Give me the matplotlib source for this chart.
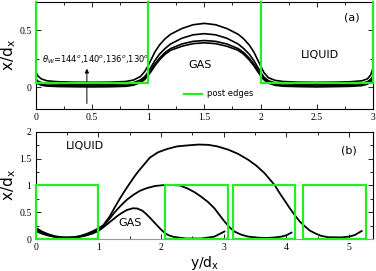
import matplotlib
matplotlib.use("Agg")
import matplotlib.pyplot as plt
from matplotlib.ticker import MultipleLocator
from matplotlib.patches import Rectangle

# ---------------- data: panel (a) ----------------
top_x = [0, 0.02, 0.05, 0.1, 0.2, 0.35, 0.5, 0.65, 0.8, 0.87, 0.93, 0.97, 1.0,
         1.03, 1.06, 1.1, 1.15, 1.2, 1.3, 1.4, 1.5, 1.6, 1.7, 1.8, 1.85, 1.9, 1.94, 1.97,
         2.0, 2.03, 2.07, 2.13, 2.2, 2.35, 2.5, 2.65, 2.8, 2.9, 2.95, 2.98, 3.0]
curve_144 = [0.135, 0.10, 0.075, 0.058, 0.05, 0.046, 0.045, 0.046, 0.052, 0.065, 0.095, 0.14, 0.19,
             0.25, 0.31, 0.37, 0.425, 0.465, 0.515, 0.548, 0.56, 0.548, 0.515, 0.465, 0.425, 0.37, 0.31, 0.25,
             0.19, 0.13, 0.085, 0.062, 0.052, 0.046, 0.045, 0.046, 0.05, 0.058, 0.075, 0.11, 0.17]
curve_140 = [0.075, 0.055, 0.042, 0.034, 0.03, 0.028, 0.027, 0.028, 0.032, 0.042, 0.065, 0.095, 0.135,
             0.185, 0.235, 0.29, 0.34, 0.38, 0.43, 0.46, 0.47, 0.46, 0.43, 0.38, 0.34, 0.29, 0.235, 0.185,
             0.135, 0.09, 0.058, 0.04, 0.033, 0.028, 0.027, 0.028, 0.03, 0.036, 0.05, 0.07, 0.10]
curve_136 = [0.06, 0.04, 0.028, 0.02, 0.016, 0.014, 0.013, 0.014, 0.018, 0.028, 0.05, 0.08, 0.115,
             0.16, 0.205, 0.255, 0.305, 0.34, 0.38, 0.403, 0.41, 0.403, 0.38, 0.34, 0.305, 0.255, 0.205, 0.16,
             0.115, 0.075, 0.045, 0.027, 0.019, 0.015, 0.013, 0.015, 0.018, 0.024, 0.037, 0.055, 0.08]
curve_130 = [0.05, 0.032, 0.02, 0.012, 0.008, 0.006, 0.005, 0.006, 0.01, 0.02, 0.042, 0.07, 0.105,
             0.145, 0.19, 0.24, 0.29, 0.325, 0.36, 0.383, 0.39, 0.383, 0.36, 0.325, 0.29, 0.24, 0.19, 0.145,
             0.105, 0.067, 0.037, 0.019, 0.011, 0.007, 0.005, 0.007, 0.01, 0.016, 0.029, 0.047, 0.07]
top_posts_left = [0, 2]
top_post_width = 1
top_post_height = 0.035

# ---------------- data: panel (b) ----------------
large_x = [0, 0.1, 0.2, 0.3, 0.4, 0.5, 0.6, 0.7, 0.8, 0.9, 1.0, 1.08, 1.185, 1.26, 1.345, 1.42,
           1.5, 1.57, 1.64, 1.72, 1.82, 1.95, 2.09, 2.25, 2.43, 2.6, 2.75, 2.9, 3.07, 3.23,
           3.39, 3.52, 3.65, 3.73, 3.81, 3.89, 3.97, 4.05, 4.13, 4.21, 4.29, 4.37, 4.45,
           4.55, 4.66, 4.87, 5.0, 5.09, 5.2]
large_y = [0.21, 0.14, 0.09, 0.055, 0.035, 0.03, 0.035, 0.055, 0.09, 0.14, 0.2, 0.26, 0.43, 0.59,
           0.76, 0.90, 1.04, 1.16, 1.27, 1.38, 1.52, 1.62, 1.68, 1.73, 1.75, 1.765, 1.76, 1.73,
           1.67, 1.59, 1.48, 1.37, 1.23, 1.12, 1.01, 0.86, 0.72, 0.58, 0.45, 0.33, 0.24, 0.16,
           0.11, 0.06, 0.035, 0.03, 0.045, 0.075, 0.15]
medium_x = [0, 0.1, 0.2, 0.3, 0.4, 0.5, 0.6, 0.7, 0.8, 0.9, 1.0, 1.08, 1.185, 1.26, 1.345, 1.45,
            1.557, 1.66, 1.77, 1.9, 2.06, 2.18, 2.3, 2.43, 2.54, 2.64, 2.75, 2.85, 2.93, 3.01,
            3.09, 3.17, 3.28, 3.39, 3.55, 3.7, 3.82, 3.92, 4.0, 4.08]
medium_y = [0.18, 0.12, 0.075, 0.045, 0.03, 0.025, 0.03, 0.045, 0.075, 0.12, 0.18, 0.24, 0.39,
            0.50, 0.61, 0.73, 0.825, 0.90, 0.95, 0.99, 1.01, 1.01, 1.0, 0.94, 0.87, 0.79, 0.69,
            0.575, 0.45, 0.33, 0.22, 0.14, 0.08, 0.045, 0.025, 0.02, 0.03, 0.045, 0.07, 0.12]
small_x = [0, 0.1, 0.2, 0.3, 0.4, 0.5, 0.6, 0.7, 0.8, 0.9, 1.0, 1.08, 1.185, 1.29, 1.35, 1.45,
           1.55, 1.62, 1.7, 1.76, 1.82, 1.9, 1.98, 2.05, 2.12, 2.2, 2.4, 2.64, 2.85, 3.01]
small_y = [0.15, 0.1, 0.065, 0.04, 0.025, 0.02, 0.025, 0.04, 0.065, 0.1, 0.15, 0.22, 0.32, 0.42,
           0.47, 0.54, 0.575, 0.57, 0.53, 0.47, 0.40, 0.30, 0.2, 0.12, 0.07, 0.04, 0.01, 0.01,
           0.045, 0.14]
bottom_posts_left = [0, 2.06, 3.14, 4.27]
bottom_post_width = 1
bottom_post_height = 1

GREEN = "#22ee22"
serif = "Liberation Serif"
sans = "DejaVu Sans"

fig = plt.figure(figsize=(3.76, 2.71), dpi=100)
ax1 = fig.add_axes([0.095, 0.597, 0.897, 0.397])
ax2 = fig.add_axes([0.095, 0.118, 0.897, 0.395])


def style(ax):
    ax.tick_params(which="both", direction="in", top=True, right=True, width=0.6)
    ax.tick_params(which="major", length=3.5, labelsize=7, pad=3)
    ax.tick_params(which="minor", length=2)
    for lab in ax.get_xticklabels() + ax.get_yticklabels():
        lab.set_fontfamily(serif)
    for s in ax.spines.values():
        s.set_linewidth(0.8)


# ---------------- panel (a) ----------------
for yv in (curve_144, curve_140, curve_136, curve_130):
    ax1.plot(top_x, yv, color="black", lw=1.2, zorder=3)
ytop = 0.75
for left in top_posts_left:
    ax1.plot([left, left, left + top_post_width, left + top_post_width],
             [ytop, top_post_height, top_post_height, ytop],
             color=GREEN, lw=1.6, zorder=4, clip_on=False)
ax1.plot([], [], color=GREEN, lw=1.6, label="post edges")
ax1.set_xlim(0, 3)
ax1.set_ylim(-0.19, ytop)
ax1.xaxis.set_major_locator(MultipleLocator(0.5))
ax1.xaxis.set_minor_locator(MultipleLocator(0.25))
ax1.yaxis.set_major_locator(MultipleLocator(0.5))
ax1.yaxis.set_minor_locator(MultipleLocator(0.25))
ax1.set_xticks([0, 0.5, 1, 1.5, 2, 2.5, 3])
ax1.set_xticklabels(["0", "0.5", "1", "1.5", "2", "2.5", "3"])
ax1.set_yticks([0, 0.5])
ax1.set_yticklabels(["0", "0.5"])
style(ax1)
ax1.set_ylabel(r"x/d$_\mathregular{x}$", fontsize=11, family=sans, labelpad=1)
ax1.text(2.81, 0.615, "(a)", fontsize=8, family=sans, ha="center", va="center")
ax1.text(2.53, 0.28, "LIQUID", fontsize=8, family=sans, ha="center", va="center")
ax1.text(1.46, 0.195, "GAS", fontsize=8, family=sans, ha="center", va="center")
ax1.text(0.535, 0.24, r"$\theta_W$=144$^o$,140$^o$,136$^o$,130$^o$", fontsize=6,
         family=sans, ha="center", va="center")
ax1.annotate("", xy=(0.455, 0.165), xytext=(0.455, -0.14),
             arrowprops=dict(arrowstyle="-|>", color="black", lw=0.7,
                             mutation_scale=6, shrinkA=0, shrinkB=0))
leg = ax1.legend(loc="center left", bbox_to_anchor=(0.43, 0.142), frameon=False,
                 fontsize=6, handlelength=2.2, handletextpad=0.6, borderaxespad=0)

# ---------------- panel (b) ----------------
for xv, yv in ((large_x, large_y), (medium_x, medium_y), (small_x, small_y)):
    ax2.plot(xv, yv, color="black", lw=1.3, zorder=3)
for left in bottom_posts_left:
    ax2.add_patch(Rectangle((left, 0), bottom_post_width, bottom_post_height,
                            fill=False, edgecolor=GREEN, lw=1.6, zorder=4, clip_on=False))
ax2.set_xlim(0, 5.38)
ax2.set_ylim(0, 2)
ax2.xaxis.set_major_locator(MultipleLocator(1))
ax2.xaxis.set_minor_locator(MultipleLocator(0.5))
ax2.yaxis.set_major_locator(MultipleLocator(0.5))
ax2.yaxis.set_minor_locator(MultipleLocator(0.25))
ax2.set_xticks([0, 1, 2, 3, 4, 5])
ax2.set_xticklabels(["0", "1", "2", "3", "4", "5"])
ax2.set_yticks([0, 0.5, 1, 1.5, 2])
ax2.set_yticklabels(["0", "0.5", "1", "1.5", "2"])
style(ax2)
ax2.spines["bottom"].set_color("#999999")
ax2.set_ylabel(r"x/d$_\mathregular{x}$", fontsize=11, family=sans, labelpad=1)
ax2.set_xlabel(r"y/d$_\mathregular{x}$", fontsize=10, family=sans, labelpad=1)
ax2.text(0.79, 1.74, "LIQUID", fontsize=8, family=sans, ha="center", va="center")
ax2.text(5.0, 1.65, "(b)", fontsize=8, family=sans, ha="center", va="center")
ax2.text(1.5, 0.3, "GAS", fontsize=8, family=sans, ha="center", va="center")

fig.savefig("out.png", dpi=100)
